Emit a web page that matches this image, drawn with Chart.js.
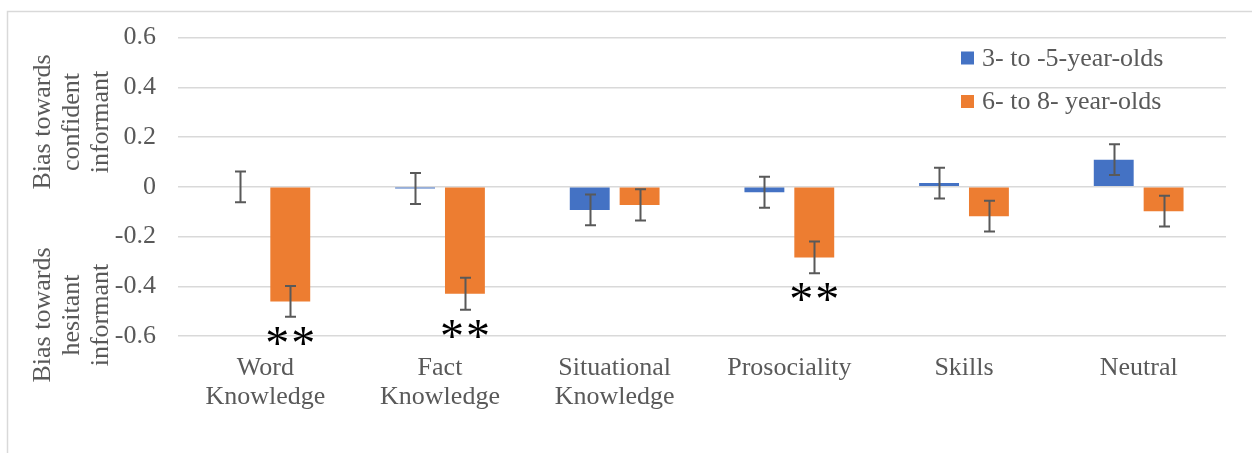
<!DOCTYPE html>
<html>
<head>
<meta charset="utf-8">
<script src="https://cdn.jsdelivr.net/npm/chart.js@4/dist/chart.umd.min.js"></script>
<style>
  html, body { margin: 0; padding: 0; background: #ffffff; }
  #wrap { position: relative; width: 1252px; height: 453px; }
</style>
</head>
<body>
<div id="wrap"><canvas id="chart" width="1252" height="453"></canvas></div>
<script>
// Categories (multi-line labels)
const categories = [
  ['Word', 'Knowledge'],
  ['Fact', 'Knowledge'],
  ['Situational', 'Knowledge'],
  ['Prosociality'],
  ['Skills'],
  ['Neutral']
];

// Series
const seriesLabels = ['3- to -5-year-olds', '6- to 8- year-olds'];
const youngerMeans = [0.000, -0.007, -0.093, -0.022, 0.015, 0.109];
const youngerErrors = [0.062, 0.062, 0.062, 0.062, 0.062, 0.062];
const olderMeans = [-0.461, -0.430, -0.073, -0.284, -0.118, -0.098];
const olderErrors = [0.062, 0.064, 0.063, 0.064, 0.062, 0.062];
const olderSignificance = ['**', '**', '', '**', '', ''];

// Axis
const yTicks = [-0.6, -0.4, -0.2, 0, 0.2, 0.4, 0.6];
const yTitleUpper = ['Bias towards', 'confident', 'informant'];
const yTitleLower = ['Bias towards', 'hesitant', 'informant'];

const BLUE = '#4472c4';
const ORANGE = '#ed7d31';
const TEXT = '#595959';
const GRID = '#d9d9d9';
const FONT = '"Liberation Serif", "Times New Roman", serif';
const FONT_SIZE = 26;

const errorSets = [youngerErrors, olderErrors];

// Frame, error bars, asterisks, axis titles and legend
const decorations = {
  id: 'decorations',
  beforeDraw(chart) {
    const ctx = chart.ctx;
    ctx.save();
    ctx.strokeStyle = GRID;
    ctx.lineWidth = 1.5;
    ctx.beginPath();
    ctx.moveTo(7.5, chart.height);
    ctx.lineTo(7.5, 11.5);
    ctx.lineTo(chart.width, 11.5);
    ctx.stroke();
    ctx.restore();
  },
  afterDatasetsDraw(chart) {
    const ctx = chart.ctx;
    const y = chart.scales.y;
    ctx.save();
    ctx.strokeStyle = TEXT;
    ctx.lineWidth = 2;
    chart.data.datasets.forEach((ds, di) => {
      const meta = chart.getDatasetMeta(di);
      meta.data.forEach((bar, i) => {
        const v = ds.data[i];
        const e = errorSets[di][i];
        const x = Math.round(bar.x) + 0.5;
        const yt = y.getPixelForValue(v + e);
        const yb = y.getPixelForValue(v - e);
        ctx.beginPath();
        ctx.moveTo(x, yt); ctx.lineTo(x, yb);
        ctx.moveTo(x - 5.5, yt); ctx.lineTo(x + 5.5, yt);
        ctx.moveTo(x - 5.5, yb); ctx.lineTo(x + 5.5, yb);
        ctx.stroke();
      });
    });
    // significance markers under the older group's bars, one glyph at a time
    const meta = chart.getDatasetMeta(1);
    ctx.fillStyle = '#000000';
    ctx.font = '48px ' + FONT;
    ctx.textAlign = 'center';
    ctx.textBaseline = 'alphabetic';
    meta.data.forEach((bar, i) => {
      const s = olderSignificance[i];
      if (!s) return;
      const yb = y.getPixelForValue(olderMeans[i] - olderErrors[i]);
      const chars = s.split('');
      const step = 26;
      chars.forEach((c, k) => {
        const cx = bar.x + (k - (chars.length - 1) / 2) * step;
        ctx.fillText(c, cx, yb + 42);
      });
    });
    ctx.restore();
  },
  afterDraw(chart) {
    const ctx = chart.ctx;
    ctx.save();
    ctx.fillStyle = TEXT;
    ctx.font = FONT_SIZE + 'px ' + FONT;
    ctx.textAlign = 'center';
    ctx.textBaseline = 'middle';
    const xs = [43, 72, 101];
    const drawBlock = (lines, cy) => {
      lines.forEach((t, k) => {
        ctx.save();
        ctx.translate(xs[k], cy);
        ctx.rotate(-Math.PI / 2);
        ctx.fillText(t, 0, 0);
        ctx.restore();
      });
    };
    drawBlock(yTitleUpper, 122);
    drawBlock(yTitleLower, 315);

    // legend
    const colors = [BLUE, ORANGE];
    const rows = [58, 101.5];
    ctx.textAlign = 'left';
    seriesLabels.forEach((lab, k) => {
      ctx.fillStyle = colors[k];
      ctx.fillRect(961, rows[k] - 6.5, 13, 13);
      ctx.fillStyle = TEXT;
      ctx.fillText(lab, 982, rows[k] + 1);
    });
    ctx.restore();
  }
};

new Chart(document.getElementById('chart'), {
  type: 'bar',
  data: {
    labels: categories,
    datasets: [
      { label: seriesLabels[0], data: youngerMeans, backgroundColor: BLUE },
      { label: seriesLabels[1], data: olderMeans, backgroundColor: ORANGE }
    ]
  },
  options: {
    responsive: false,
    animation: false,
    devicePixelRatio: 1,
    layout: { padding: { left: 0, right: 26, top: 34, bottom: 0 } },
    datasets: { bar: { categoryPercentage: 0.571, barPercentage: 0.8 } },
    plugins: { legend: { display: false }, tooltip: { enabled: false } },
    scales: {
      x: {
        grid: { display: false, drawTicks: false },
        border: { display: false },
        ticks: { color: TEXT, font: { family: FONT, size: FONT_SIZE, lineHeight: 1.13 }, padding: 17, maxRotation: 0, autoSkip: false },
        afterFit(s) { s.height = 117; }
      },
      y: {
        min: -0.6, max: 0.6,
        afterBuildTicks(s) { s.ticks = yTicks.map(v => ({ value: v })); },
        grid: { color: GRID, lineWidth: 1.5, drawTicks: false },
        border: { display: false },
        ticks: {
          color: TEXT, padding: 22,
          font: { family: FONT, size: FONT_SIZE },
          callback: v => (Math.abs(v) < 1e-9 ? '0' : String(Math.round(v * 10) / 10))
        },
        afterFit(s) { s.width = 178; }
      }
    }
  },
  plugins: [decorations]
});
</script>
</body>
</html>
